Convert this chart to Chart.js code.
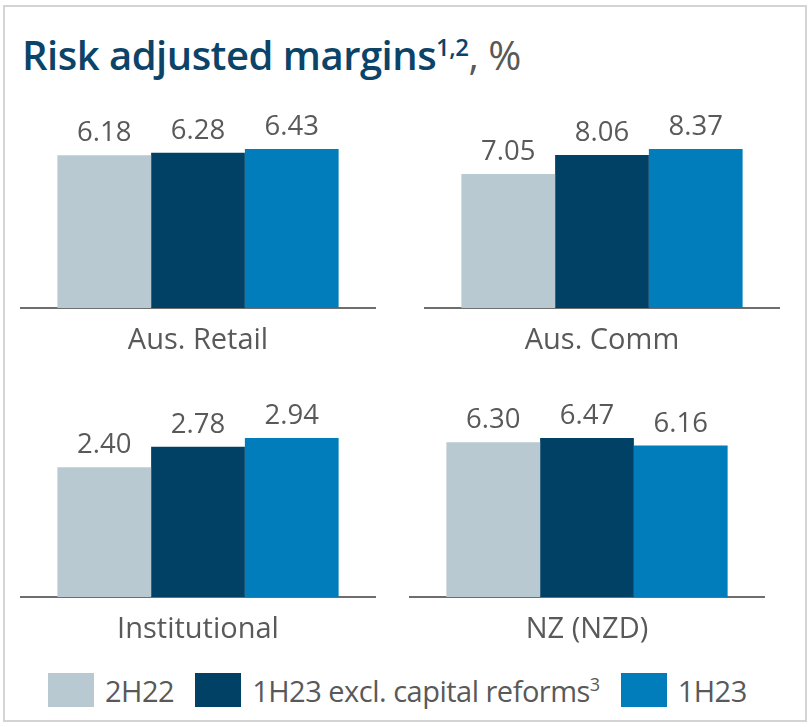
<!DOCTYPE html>
<html>
<head>
<meta charset="utf-8">
<script src="https://cdn.jsdelivr.net/npm/chart.js@4"></script>
<style>
  body { margin: 0; background: #fff; font-family: 'Open Sans', sans-serif; }
  .card { position: absolute; left: 3px; top: 5px; width: 804px; height: 717px; border: 2px solid #d4d4d4; box-sizing: border-box; }
  .title { position: absolute; left: 22px; top: 35px; font-size: 40px; line-height: 40px; font-weight: 600; color: #0b4468; white-space: nowrap; letter-spacing: -0.5px; }
  .title sup { font-size: 24px; vertical-align: 14px; line-height: 0; }
  .title .unit { color: #595959; font-weight: 400; }
  .panel { position: absolute; }
  .legend { position: absolute; left: 48px; top: 673px; display: flex; align-items: flex-start; }
  .legend .sw { width: 46px; height: 34px; }
  .legend .lbl { font-size: 29px; line-height: 34px; color: #595959; margin-left: 11px; margin-right: 21px; position: relative; top: 1px; white-space: nowrap; letter-spacing: -0.5px; }
  .legend .lbl sup { font-size: 18px; vertical-align: 11px; line-height: 0; }
</style>
</head>
<body>
<div class="card"></div>
<div class="title">Risk adjusted margins<sup>1,2</sup><span class="unit">, %</span></div>
<canvas id="p0" class="panel" width="356" height="264"></canvas>
<canvas id="p1" class="panel" width="356" height="264"></canvas>
<canvas id="p2" class="panel" width="356" height="264"></canvas>
<canvas id="p3" class="panel" width="356" height="264"></canvas>
<div class="legend" id="legend"></div>

<script>
// Data
const categories = ['Aus. Retail', 'Aus. Comm', 'Institutional', 'NZ (NZD)'];
const seriesNames = ['2H22', '1H23 excl. capital reforms', '1H23'];
const seriesNotes = ['', '3', ''];
const values2H22 = [6.18, 7.05, 2.40, 6.30];
const values1H23Excl = [6.28, 8.06, 2.78, 6.47];
const values1H23 = [6.43, 8.37, 2.94, 6.16];
const seriesValues = [values2H22, values1H23Excl, values1H23];
const seriesColors = ['#b8c9d1', '#004165', '#007dba'];

// Layout of the four small panels (axis left edge, baseline y)
const panelPos = [
    { left: 20, baseline: 308 },
    { left: 424, baseline: 308 },
    { left: 20, baseline: 596.5 },
    { left: 409, baseline: 596.5 }
];
const PAD_TOP = 55, PLOT_H = 159, AXIS_H = 50;
const textGray = '#595959';

// Value labels above each bar
const valueLabels = {
    id: 'valueLabels',
    afterDatasetsDraw(chart) {
        const ctx = chart.ctx;
        ctx.save();
        ctx.font = '27.5px "Open Sans"';
        ctx.fillStyle = textGray;
        ctx.textAlign = 'center';
        ctx.textBaseline = 'alphabetic';
        chart.data.datasets.forEach((ds, i) => {
            chart.getDatasetMeta(i).data.forEach((bar, j) => {
                ctx.fillText(ds.data[j].toFixed(2), bar.x, bar.y - 14);
            });
        });
        ctx.restore();
    }
};

categories.forEach((cat, k) => {
    const canvas = document.getElementById('p' + k);
    const pos = panelPos[k];
    canvas.style.left = pos.left + 'px';
    canvas.style.top = (pos.baseline - PLOT_H - PAD_TOP) + 'px';
    const vals = seriesValues.map(s => s[k]);

    new Chart(canvas, {
        type: 'bar',
        data: {
            labels: [cat],
            datasets: seriesNames.map((name, i) => ({
                label: name,
                data: [seriesValues[i][k]],
                backgroundColor: seriesColors[i],
                borderWidth: 0,
                barPercentage: 1,
                categoryPercentage: 0.79
            }))
        },
        options: {
            responsive: false,
            animation: false,
            layout: { padding: { top: PAD_TOP, left: 0, right: 0, bottom: 0 } },
            plugins: { legend: { display: false }, tooltip: { enabled: false } },
            scales: {
                x: {
                    grid: { display: false, drawTicks: false },
                    border: { display: true, color: '#6e6e6e', width: 2 },
                    ticks: { color: textGray, font: { family: 'Open Sans', size: 29 }, padding: 15 },
                    afterFit: scale => { scale.height = AXIS_H; }
                },
                y: { display: false, min: 0, max: Math.max(...vals) }
            }
        },
        plugins: [valueLabels]
    });
});

// Legend
const legend = document.getElementById('legend');
seriesNames.forEach((name, i) => {
    const sw = document.createElement('span');
    sw.className = 'sw';
    sw.style.background = seriesColors[i];
    const lbl = document.createElement('span');
    lbl.className = 'lbl';
    lbl.innerHTML = name + (seriesNotes[i] ? '<sup>' + seriesNotes[i] + '</sup>' : '');
    legend.appendChild(sw);
    legend.appendChild(lbl);
});
</script>
</body>
</html>
